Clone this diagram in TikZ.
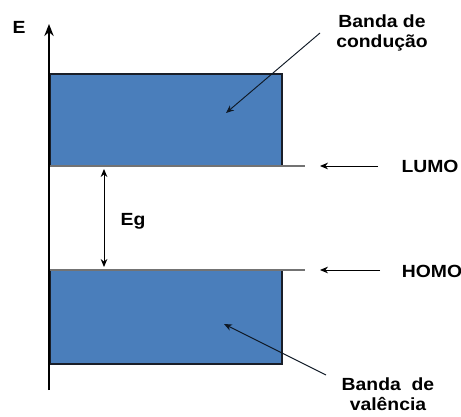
\documentclass[tikz,border=0pt]{standalone}
\usepackage{fontspec}
\setmainfont{Liberation Sans}
\usetikzlibrary{arrows.meta}
\definecolor{bandblue}{RGB}{74,126,187}
\definecolor{edge}{RGB}{25,30,40}
\begin{document}
\begin{tikzpicture}[x=0.75pt,y=-0.75pt,
  lbl/.style={font=\fontsize{13.2}{15}\selectfont\bfseries, align=center, inner sep=0pt, xscale=1.1},
  band/.style={fill=bandblue, draw=edge, line width=1.5pt},
  level/.style={draw=black!55, line width=0.8pt},
  ptr/.style={draw=black, line width=0.7pt, -{Stealth[length=6pt,width=5pt]}},
  bptr/.style={draw=black!80!bandblue, line width=0.7pt, -{Stealth[length=6pt,width=5pt]}}]
\useasboundingbox (0,0) rectangle (461,417);
% bands
\path[band] (50,74) rectangle (282,166);
\path[band] (50,270) rectangle (282,364);
% levels
\coordinate (lumoL) at (50,166);
\coordinate (lumoR) at (305,166);
\coordinate (homoL) at (50,270);
\coordinate (homoR) at (305,270);
\draw[level] (lumoL) -- (lumoR);
\draw[level] (homoL) -- (homoR);
% axis
\coordinate (axB) at (49,390);
\coordinate (axT) at (49,24);
\draw[line width=2.2pt, -{Stealth[length=9pt,width=7pt]}] (axB) -- (axT);
\node[lbl] (E) at (19,27) {E};
% Eg
\coordinate (egT) at (104,169);
\coordinate (egB) at (104,267);
\draw[line width=0.7pt, {Stealth[length=6pt,width=5pt]}-{Stealth[length=6pt,width=5pt]}] (egT) -- (egB);
\node[lbl] (Eg) at (133,221) {Eg};
% labels
\node[lbl] (lumo) at (430,166) {LUMO};
\node[lbl] (homo) at (432,271) {HOMO};
\coordinate (lumoA1) at (378,166);
\coordinate (lumoA2) at (320,166);
\coordinate (homoA1) at (380,270);
\coordinate (homoA2) at (320,270);
\draw[ptr] (lumoA1) -- (lumoA2);
\draw[ptr] (homoA1) -- (homoA2);
\node[lbl] (cond) at (382,33) {Banda de\\condução};
\node[lbl] (val) at (388,394) {Banda~~de\\valência};
\coordinate (cA) at (320,33);
\coordinate (cT) at (226,113);
\coordinate (vA) at (326,375);
\coordinate (vT) at (224,324);
\draw[bptr] (cA) -- (cT);
\draw[bptr] (vA) -- (vT);
\end{tikzpicture}
\end{document}
